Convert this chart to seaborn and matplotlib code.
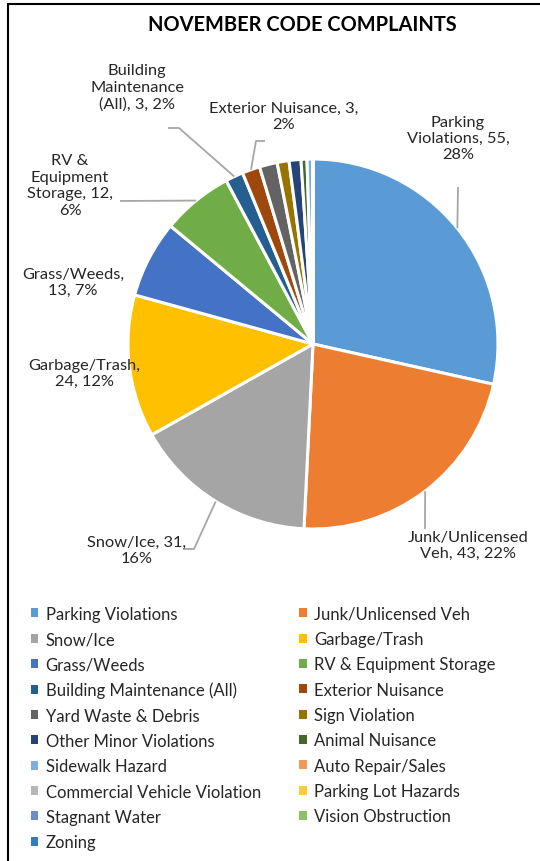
import numpy as np
import matplotlib

matplotlib.use("Agg")
import matplotlib.pyplot as plt
import seaborn as sns
from matplotlib.patches import Patch

# ===================== data =====================
categories = [
    "Parking Violations", "Junk/Unlicensed Veh", "Snow/Ice", "Garbage/Trash",
    "Grass/Weeds", "RV & Equipment Storage", "Building Maintenance (All)",
    "Exterior Nuisance", "Yard Waste & Debris", "Sign Violation",
    "Other Minor Violations", "Animal Nuisance", "Sidewalk Hazard",
    "Auto Repair/Sales", "Commercial Vehicle Violation", "Parking Lot Hazards",
    "Stagnant Water", "Vision Obstruction", "Zoning",
]
counts = [55, 43, 31, 24, 13, 12, 3, 3, 3, 2, 2, 1, 1, 0, 0, 0, 0, 0, 0]
colors = [
    "#5B9BD5", "#ED7D31", "#A5A5A5", "#FFC000", "#4472C4", "#70AD47",
    "#255E91", "#9E480E", "#636363", "#997300", "#264478", "#43682B",
    "#7CAFDD", "#F1975A", "#B7B7B7", "#FFCD33", "#698ED0", "#8CC168", "#327DC2",
]
# label text for the slices that carry a data label
label_text = {
    0: "Parking\nViolations, 55,\n28%",
    1: "Junk/Unlicensed\nVeh, 43, 22%",
    2: "Snow/Ice, 31,\n16%",
    3: "Garbage/Trash,\n24, 12%",
    4: "Grass/Weeds,\n13, 7%",
    5: "RV &\nEquipment\nStorage, 12,\n6%",
    6: "Building\nMaintenance\n(All), 3, 2%",
    7: "Exterior Nuisance, 3,\n2%",
}

# ===================== layout (pixels) =====================
W, H = 540, 862
CX, CY, R = 313, 345, 185


def px(x, y):
    return (x - CX) / R, (CY - y) / R


# label centre, leader path (elbow points after the wedge edge)
label_pos = {
    0: ((458, 139), [(458, 188)]),
    1: ((468, 546), [(425, 530)]),
    2: ((137, 551), [(194, 550), (183, 550)]),
    3: ((84, 374), []),
    4: ((73, 283), []),
    5: ((70, 186), [(120, 202)]),
    6: ((137, 88), [(179, 129), (168, 129)]),
    7: ((284, 117), [(256, 142), (265, 142)]),
}

sns.set_theme(style="white")
plt.rcParams["font.family"] = ["Lato", "DejaVu Sans"]

fig = plt.figure(figsize=(W / 100, H / 100), dpi=100)
ax = fig.add_axes([0, 0, 1, 1])

wedges, _ = ax.pie(
    counts, colors=colors, startangle=90, counterclock=False, radius=1,
    wedgeprops=dict(edgecolor="white", linewidth=2.2),
)
ax.set_aspect("auto")
ax.set_xlim(-CX / R, (W - CX) / R)
ax.set_ylim((CY - H) / R, CY / R)
ax.axis("off")

for i, txt in label_text.items():
    w = wedges[i]
    mid = np.deg2rad((w.theta1 + w.theta2) / 2)
    pts = [(np.cos(mid), np.sin(mid))] + [px(*p) for p in label_pos[i][1]]
    if len(pts) > 1:
        xs, ys = zip(*pts)
        ax.plot(xs, ys, color="#A6A6A6", lw=1.3, solid_capstyle="butt")
    tx, ty = px(*label_pos[i][0])
    ax.text(tx, ty, txt, ha="center", va="center", fontsize=11.8,
            color="#262626", linespacing=1.22)

fig.text(302 / W, 1 - 25 / H, "NOVEMBER CODE COMPLAINTS", ha="center",
         va="center", fontsize=14.4, fontweight="bold", color="black")

# frame lines (left and top visible)
fig.add_artist(plt.Line2D([8 / W, 8 / W], [0, 1 - 5 / H], color="black", lw=1.5))
fig.add_artist(plt.Line2D([8 / W, 1], [1 - 5 / H, 1 - 5 / H], color="black", lw=1.5))

handles = [Patch(facecolor=c, edgecolor="none") for c in colors]
order = list(range(0, len(categories), 2)) + list(range(1, len(categories), 2))
fig.legend(
    [handles[k] for k in order], [categories[k] for k in order],
    ncol=2, loc="upper left", bbox_to_anchor=(24 / W, 1 - 600 / H),
    frameon=False, fontsize=12, handlelength=0.45, handleheight=0.45,
    handletextpad=0.45, labelspacing=0.56, columnspacing=2.3,
    labelcolor="#262626", borderaxespad=0,
)

fig.savefig("out.png", dpi=100)
